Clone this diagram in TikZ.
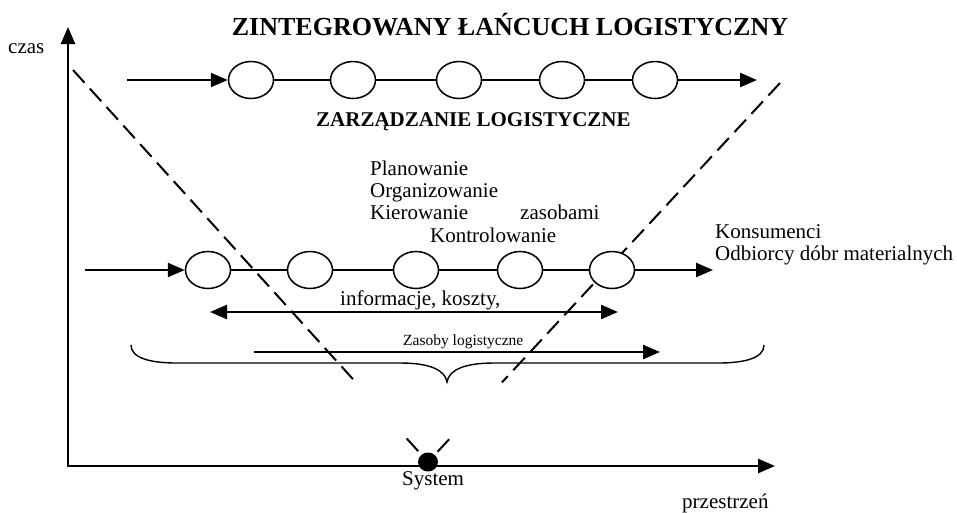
\documentclass[tikz,border=0pt]{standalone}
\usepackage{fontspec}
\setmainfont{Liberation Serif}
\usetikzlibrary{shapes, arrows.meta, positioning, calc}

\begin{document}
\begin{tikzpicture}[
        x=1pt, y=-1pt,
        stage/.style={ellipse, draw=black, fill=white, line width=1.5pt, minimum width=45pt, minimum height=37pt, inner sep=0pt},
        link/.style={line width=1.4pt, draw=black},
        flow/.style={-{Triangle[length=17pt, width=14pt]}, line width=2.4pt, draw=black},
        dflow/.style={{Triangle[length=17pt, width=14pt]}-{Triangle[length=17pt, width=14pt]}, line width=2.4pt, draw=black},
        axis/.style={{Triangle[length=17pt, width=14pt]}-{Triangle[length=17pt, width=14pt]}, line width=2.6pt, draw=black},
        guide/.style={dash pattern=on 17pt off 8pt, line width=2pt, draw=black},
        txt/.style={font=\fontsize{21}{25}\selectfont, inner sep=0pt, anchor=base west},
        small/.style={font=\fontsize{15.5}{18}\selectfont, inner sep=0pt, anchor=base west},
        head/.style={font=\fontsize{26}{30}\selectfont\bfseries, inner sep=0pt, anchor=base}
    ]
        \useasboundingbox (0,0) rectangle (957,512);
        \node[head] (title) at (510,35) {ZINTEGROWANY ŁAŃCUCH LOGISTYCZNY};
        % axes
        \coordinate (orig) at (68,466);
        \coordinate (ytop) at (68,27);
        \coordinate (xend) at (775,466);
        \draw[axis] (ytop) -- (orig) -- (xend);
        \node[txt] (czas) at (8,53) {czas};
        \node[txt] (space) at (682,508) {przestrzeń};
        % dashed V
        \coordinate (apex) at (428,462);
        \coordinate (ltop) at (73,70);
        \coordinate (rtop) at (780,83);
        \draw[guide] (ltop) -- ($(ltop)!0.79!(apex)$);
        \draw[guide] ($(ltop)!0.94!(apex)$) -- (apex);
        \draw[guide] (rtop) -- ($(rtop)!0.79!(apex)$);
        \draw[guide] ($(rtop)!0.94!(apex)$) -- (apex);
        \node[ellipse, fill=black, minimum width=20pt, minimum height=19pt, inner sep=0pt] (sys) at (apex) {};
        \node[txt] (syslbl) at (402,485) {System};
        % upper chain
        \node[stage] (a1) at (251,80) {};
        \node[stage] (a2) at (353,80) {};
        \node[stage] (a3) at (459,80) {};
        \node[stage] (a4) at (562,80) {};
        \node[stage] (a5) at (655,80) {};
        \coordinate (ain) at (127,80);
        \coordinate (aout) at (757,80);
        \draw[flow] (ain) -- (a1);
        \draw[link] (a1) -- (a2);
        \draw[link] (a2) -- (a3);
        \draw[link] (a3) -- (a4);
        \draw[link] (a4) -- (a5);
        \draw[flow] (a5) -- (aout);
        \node[txt, font=\fontsize{21}{25}\selectfont\bfseries] (mgmt) at (316,126) {ZARZĄDZANIE LOGISTYCZNE};
        % functions
        \node[txt] (plan) at (370,175) {Planowanie};
        \node[txt] (org) at (370,197) {Organizowanie};
        \node[txt] (kier) at (370,219) {Kierowanie};
        \node[txt] (zas) at (520,219) {zasobami};
        \node[txt] (kontr) at (430,242) {Kontrolowanie};
        % lower chain
        \node[stage] (b1) at (208,270) {};
        \node[stage] (b2) at (310,270) {};
        \node[stage] (b3) at (416,270) {};
        \node[stage] (b4) at (520,270) {};
        \node[stage] (b5) at (612,270) {};
        \coordinate (bin) at (85,270);
        \coordinate (bout) at (713,270);
        \draw[flow] (bin) -- (b1);
        \draw[link] (b1) -- (b2);
        \draw[link] (b2) -- (b3);
        \draw[link] (b3) -- (b4);
        \draw[link] (b4) -- (b5);
        \draw[flow] (b5) -- (bout);
        \node[txt] (kons) at (715,238) {Konsumenci};
        \node[txt] (odb) at (715,260) {Odbiorcy dóbr materialnych};
        % information and resources
        \node[txt] (info) at (340,305) {informacje, koszty,};
        \coordinate (infl) at (210,312);
        \coordinate (infr) at (618,312);
        \draw[dflow] (infl) -- (infr);
        \node[small] (res) at (403,345) {Zasoby logistyczne};
        \coordinate (resl) at (254,352);
        \coordinate (resr) at (660,352);
        \draw[flow] (resl) -- (resr);
        \draw[line width=1.4pt] (131,345) .. controls (131,358) and (150,363) .. (177,363) -- (400,363)
            .. controls (430,363) and (445,370) .. (447,382)
            .. controls (449,370) and (464,363) .. (494,363) -- (718,363)
            .. controls (745,363) and (764,358) .. (764,345);
    \end{tikzpicture}
\end{document}
